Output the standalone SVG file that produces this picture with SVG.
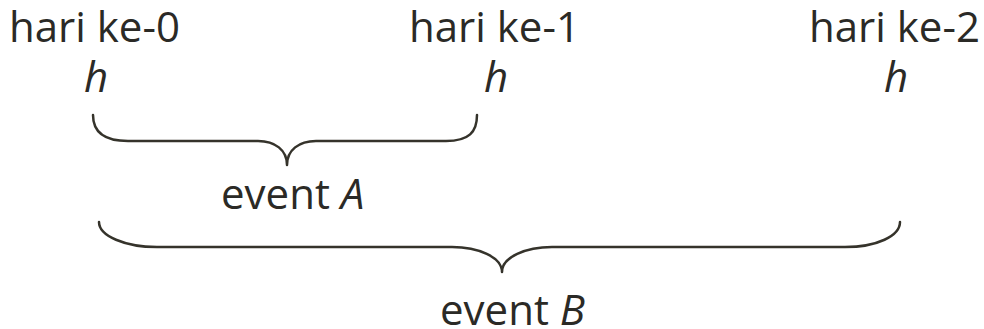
<svg xmlns="http://www.w3.org/2000/svg" width="984" height="329" viewBox="0 0 984 329">
<style>
.t{font-family:"Open Sans","Liberation Sans",sans-serif;font-size:42px;fill:#2b2a26}
.i{font-style:italic}
.brace{fill:none;stroke:#35332b;stroke-width:2.5;stroke-linecap:round;stroke-linejoin:round}
</style>
<rect width="984" height="329" fill="#ffffff"/>
<g id="day0">
<text class="t" x="9" y="42">hari ke-0</text>
<text class="t i" x="96" y="92" text-anchor="middle">h</text>
</g>
<g id="day1">
<text class="t" x="409" y="42">hari ke-1</text>
<text class="t i" x="496" y="92" text-anchor="middle">h</text>
</g>
<g id="day2">
<text class="t" x="809" y="42">hari ke-2</text>
<text class="t i" x="896" y="92" text-anchor="middle">h</text>
</g>
<g id="connectors">
<path class="brace" d="M93,115 C93,132 105,141 128,141 L258,141 C275,141 287,150 287,165 C287,150 299,141 316,141 L446,141 C469,141 477,132 477,115"/>
<path class="brace" d="M99,222 C99,236 125,247 157,247 L452,247 C478,247 502,257 502,272 C502,257 526,247 552,247 L845,247 C877,247 900,236 900,222"/>
</g>
<g id="eventA">
<text class="t" x="221" y="209">event <tspan class="i">A</tspan></text>
</g>
<g id="eventB">
<text class="t" x="440" y="325">event <tspan class="i">B</tspan></text>
</g>
</svg>
